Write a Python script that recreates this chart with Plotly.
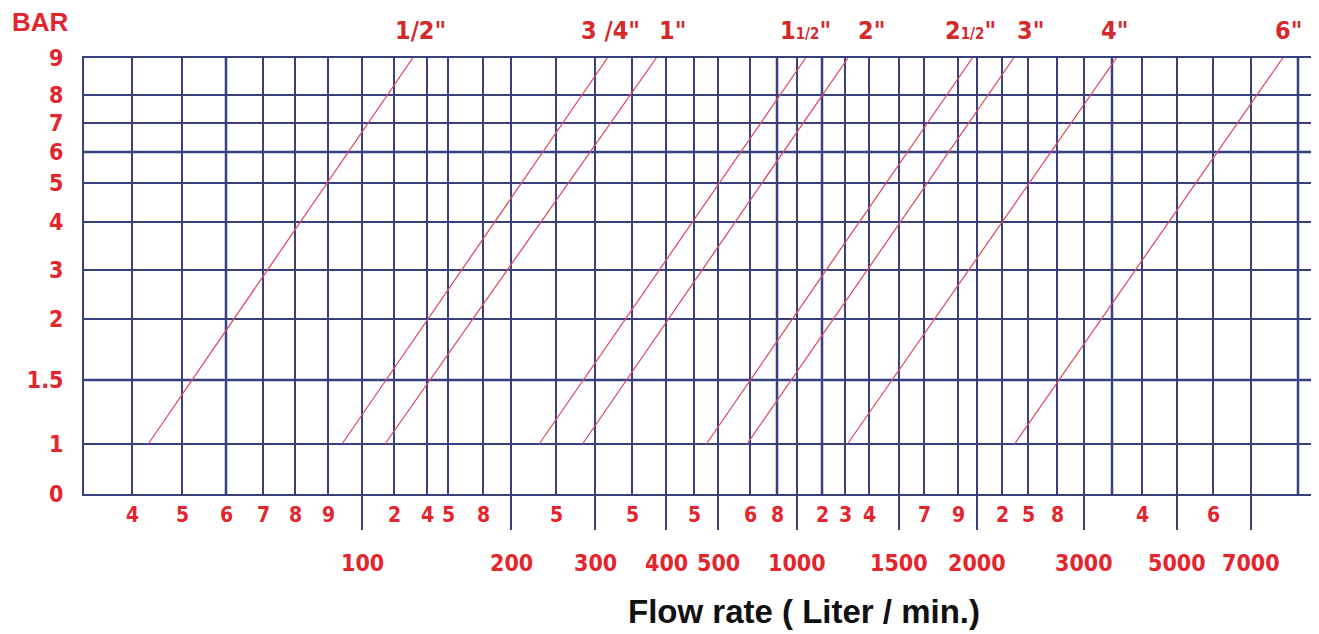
import numpy as np
import plotly.graph_objects as go

# ---------------- data ----------------
pipe_sizes = ['1/2"', '3/4"', '1"', '1 1/2"', '2"', '2 1/2"', '3"', '4"', '6"']
flow_at_1bar = [43, 94, 114, 230, 283, 475, 590, 1310, 2340]      # L/min at 1 bar
flow_at_9bar = [131, 316, 385, 1065, 1312, 1975, 2330, 3570, 7660]  # L/min at 9 bar
pressure_low = 1
pressure_high = 9

pressure_ticks = [0, 1, 1.5, 2, 3, 4, 5, 6, 7, 8, 9]
pressure_labels = ["0", "1", "1.5", "2", "3", "4", "5", "6", "7", "8", "9"]

grid_flows = [40, 50, 60, 70, 80, 90, 100, 120, 140, 150, 180, 200, 250, 300, 350,
              400, 450, 500, 600, 800, 1000, 1200, 1300, 1400, 1500, 1700, 1900,
              2000, 2200, 2500, 2800, 3000, 3500, 4000, 5000, 6000, 7000, 8000]
major_flows = [100, 200, 300, 400, 500, 1000, 1500, 2000, 3000, 5000, 7000]
major_labels = ["100", "200", "300", "400", "500", "1000", "1500", "2000", "3000", "5000", "7000"]
minor_label_flows = [40, 50, 60, 70, 80, 90, 120, 140, 150, 180, 250, 350, 450, 600, 800,
                     1200, 1300, 1400, 1700, 1900, 2200, 2500, 2800, 4000, 6000]
minor_labels = ["4", "5", "6", "7", "8", "9", "2", "4", "5", "8", "5", "5", "5", "6", "8",
                "2", "3", "4", "7", "9", "2", "5", "8", "4", "6"]
heavy_flows = [60, 800, 1200, 3500, 8000]     # gridlines printed heavier
heavy_pressures = [6, 1.5]

# ---------------- nomograph scale (layout) ----------------
grid_pos = [132, 182, 226, 263, 295, 328, 362, 394, 427, 448, 483, 511, 556, 595, 632,
            666, 694, 718, 750, 777, 797, 822, 845, 869, 899, 924, 958, 977, 1002, 1028,
            1057, 1084, 1112, 1142, 1177, 1213, 1251, 1298]
row_pos = [0, 50, 114, 175, 224, 272, 311, 342, 371, 399, 436]
X_RANGE = [84, 1315]
Y_RANGE = [0, 436]
label_pos = [420, 610, 672, 805, 871, 970, 1030, 1114, 1288]


def fx(flow):
    return float(np.interp(np.log(flow), np.log(grid_flows), grid_pos))


def fy(p):
    return float(np.interp(p, pressure_ticks, row_pos))


RED = "#e3262d"
DRED = "#d32a2c"
NAVY = "#3a3f7e"
HALO = "#c9cde6"
NARROW = "Liberation Sans Narrow, DejaVu Sans Condensed, Arial Narrow, sans-serif"
SANS = "Liberation Sans, Arial, sans-serif"

fig = go.Figure()

for name, f1, f9 in zip(pipe_sizes, flow_at_1bar, flow_at_9bar):
    fig.add_trace(go.Scatter(
        x=[fx(f1), fx(f9)], y=[fy(pressure_low), fy(pressure_high)],
        mode="lines", line=dict(color="#dc5068", width=1.3),
        name=name, showlegend=False, hoverinfo="skip"))

major_pos = [fx(f) for f in major_flows]
minor_pos = [p for f, p in zip(grid_flows, grid_pos) if f not in major_flows]

fig.update_xaxes(
    range=X_RANGE, showgrid=True, gridcolor=NAVY, gridwidth=2,
    tickmode="array", tickvals=major_pos, ticks="outside", ticklen=34,
    tickwidth=2, tickcolor=NAVY, showticklabels=False, zeroline=False,
    showline=True, linecolor=NAVY, linewidth=2, mirror=True, automargin=False,
    minor=dict(tickmode="array", tickvals=minor_pos, showgrid=True,
               gridcolor=NAVY, gridwidth=2, ticks=""),
)
fig.update_yaxes(
    range=Y_RANGE, showgrid=True, gridcolor=NAVY, gridwidth=2,
    tickmode="array", tickvals=[fy(p) for p in pressure_ticks],
    ticktext=pressure_labels, ticks="", ticklabelstandoff=14, automargin=False,
    tickfont=dict(family=NARROW, size=23, color=RED, weight="bold"),
    zeroline=False, showline=True, linecolor=NAVY, linewidth=2, mirror=True,
)

shapes = []
for f in heavy_flows:
    shapes.append(dict(type="line", xref="x", yref="paper", x0=fx(f), x1=fx(f),
                       y0=0, y1=1, layer="below", line=dict(color=HALO, width=4)))
for p in heavy_pressures:
    shapes.append(dict(type="line", xref="paper", yref="y", x0=0, x1=1,
                       y0=fy(p), y1=fy(p), layer="below", line=dict(color=HALO, width=4)))

annotations = []
for f, t in zip(minor_label_flows, minor_labels):
    annotations.append(dict(x=fx(f), y=0, xref="x", yref="paper", text=t,
                            showarrow=False, yanchor="middle", yshift=-21,
                            font=dict(family=NARROW, size=21, color=RED, weight="bold")))
for p, t in zip(major_pos, major_labels):
    annotations.append(dict(x=p, y=0, xref="x", yref="paper", text=t,
                            showarrow=False, yanchor="middle", yshift=-69,
                            font=dict(family=NARROW, size=23, color=RED, weight="bold")))
for x, t in zip(label_pos, pipe_sizes):
    if t == '1 1/2"':
        t = '1<span style="font-size:15px">1/2</span>"'
    elif t == '2 1/2"':
        t = '2<span style="font-size:15px">1/2</span>"'
    elif t == '3/4"':
        t = '3 /4"'
    annotations.append(dict(x=x, y=1, xref="x", yref="paper", text=t,
                            showarrow=False, yanchor="middle", yshift=28,
                            font=dict(family=NARROW, size=25, color=DRED, weight="bold")))
annotations.append(dict(x=0, y=1, xref="paper", yref="paper", text="BAR",
                        xanchor="left", yanchor="middle", showarrow=False,
                        xshift=-74, yshift=36,
                        font=dict(family=SANS, size=26, color=RED, weight="bold")))
annotations.append(dict(x=804, y=0, xref="x", yref="paper", text="Flow rate ( Liter / min.)",
                        showarrow=False, yanchor="middle", yshift=-117,
                        font=dict(family=SANS, size=33, color="#111111", weight="bold")))

# the page body adds an 8px offset, so the figure is 8px smaller than the window
fig.update_layout(
    width=1311, height=626,
    margin=dict(l=76, r=4, t=50, b=140, autoexpand=False),
    paper_bgcolor="white", plot_bgcolor="white",
    annotations=annotations, shapes=shapes, showlegend=False,
)

fig.write_html("out.html")
